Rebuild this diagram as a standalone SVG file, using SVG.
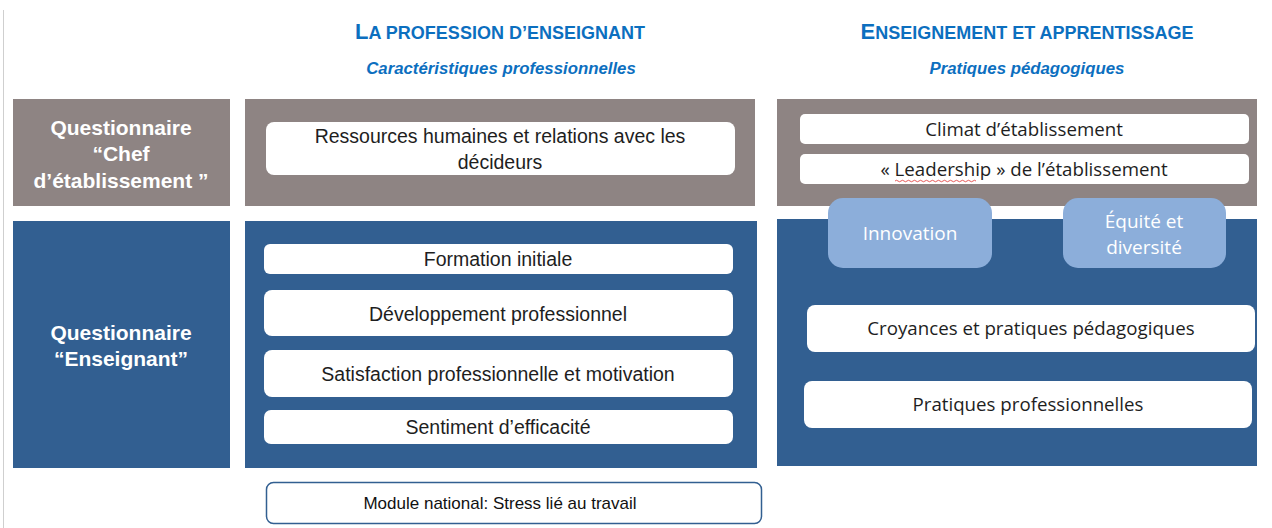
<svg xmlns="http://www.w3.org/2000/svg" width="1272" height="528" viewBox="0 0 1272 528">
<style>
.gray{fill:#8E8483}
.blue{fill:#325F91}
.wbox{fill:#FFFFFF}
.lbl{font-family:"Liberation Sans",Arial,sans-serif;font-weight:bold;font-size:21px;fill:#FFFFFF;text-anchor:middle}
.t{font-family:"Liberation Sans",Arial,sans-serif;font-size:19.5px;fill:#1E1E1E;text-anchor:middle}
.tr{font-family:"Open Sans","Liberation Sans",Arial,sans-serif;font-size:18.7px;fill:#1E1E1E;text-anchor:middle}
.head{font-family:"Liberation Sans",Arial,sans-serif;font-weight:bold;fill:#0C6FBF;text-anchor:middle}
.sub{font-family:"Liberation Sans",Arial,sans-serif;font-weight:bold;font-style:italic;font-size:16.8px;fill:#0C6FBF;text-anchor:middle}
.lt{fill:#8CAEDA}
.ltx{font-family:"Open Sans","Liberation Sans",Arial,sans-serif;font-size:19px;fill:#FFFFFF;text-anchor:middle}
</style>
<rect width="1272" height="528" fill="#FFFFFF"/>
<line x1="3.5" y1="10" x2="3.5" y2="528" stroke="#CFCFCF" stroke-width="1"/>

<g id="headings">
<text class="head" x="500" y="39"><tspan font-size="22">L</tspan><tspan font-size="18">A PROFESSION D’ENSEIGNANT</tspan></text>
<text class="sub" x="501" y="74">Caractéristiques professionnelles</text>
<text class="head" x="1027" y="39"><tspan font-size="22">E</tspan><tspan font-size="18">NSEIGNEMENT ET APPRENTISSAGE</tspan></text>
<text class="sub" x="1027" y="74">Pratiques pédagogiques</text>
</g>

<g id="q-chef">
<rect class="gray" x="13" y="99" width="217" height="107"/>
<text class="lbl" x="121" y="135">Questionnaire</text>
<text class="lbl" x="121" y="161">“Chef</text>
<text class="lbl" x="121" y="188">d’établissement ”</text>
</g>

<g id="q-enseignant">
<rect class="blue" x="13" y="221" width="217" height="247"/>
<text class="lbl" x="121" y="340">Questionnaire</text>
<text class="lbl" x="121" y="366">“Enseignant”</text>
</g>

<g id="profession-chef">
<rect class="gray" x="245" y="99" width="510" height="107"/>
<rect class="wbox" x="266" y="122" width="469" height="53" rx="8"/>
<text class="t" x="500" y="143">Ressources humaines et relations avec les</text>
<text class="t" x="500" y="169">décideurs</text>
</g>

<g id="profession-enseignant">
<rect class="blue" x="245" y="221" width="512" height="247"/>
<g id="formation">
<rect class="wbox" x="264" y="244" width="469" height="30" rx="6"/>
<text class="t" x="498" y="266">Formation initiale</text>
</g>
<g id="developpement">
<rect class="wbox" x="264" y="290" width="469" height="46" rx="8"/>
<text class="t" x="498" y="321">Développement professionnel</text>
</g>
<g id="satisfaction">
<rect class="wbox" x="264" y="350" width="469" height="47" rx="8"/>
<text class="t" x="498" y="381">Satisfaction professionnelle et motivation</text>
</g>
<g id="sentiment">
<rect class="wbox" x="264" y="410" width="469" height="34" rx="7"/>
<text class="t" x="498" y="434">Sentiment d’efficacité</text>
</g>
</g>

<g id="module">
<rect x="266.5" y="482.5" width="495" height="41" rx="7" fill="#FFFFFF" stroke="#325F91" stroke-width="1.5"/>
<text x="500" y="509" font-family="Liberation Sans, Arial, sans-serif" font-size="17" fill="#111" text-anchor="middle">Module national: Stress lié au travail</text>
</g>

<g id="enseignement-chef">
<rect class="gray" x="777" y="99" width="480" height="107"/>
<g id="climat">
<rect class="wbox" x="800" y="114" width="449" height="30" rx="5"/>
<text class="tr" x="1024" y="136">Climat d’établissement</text>
</g>
<g id="leadership">
<rect class="wbox" x="800" y="154" width="449" height="30" rx="5"/>
<text class="tr" x="1024" y="176">« Leadership » de l’établissement</text>
<path d="M895 181 q1.5 -1.5 3 0 t3 0 t3 0 t3 0 t3 0 t3 0 t3 0 t3 0 t3 0 t3 0 t3 0 t3 0 t3 0 t3 0 t3 0 t3 0 t3 0 t3 0 t3 0 t3 0 t3 0 t3 0 t3 0 t3 0 t3 0 t3 0 t3 0" fill="none" stroke="#E03030" stroke-width="0.8"/>
</g>
</g>

<g id="enseignement-enseignant">
<rect class="blue" x="777" y="219" width="480" height="247"/>
<g id="croyances">
<rect class="wbox" x="807" y="305" width="448" height="47" rx="8"/>
<text class="tr" x="1031" y="335">Croyances et pratiques pédagogiques</text>
</g>
<g id="pratiques">
<rect class="wbox" x="804" y="381" width="448" height="47" rx="8"/>
<text class="tr" x="1028" y="411">Pratiques professionnelles</text>
</g>
</g>

<g id="innovation">
<rect class="lt" x="828" y="198" width="164" height="70" rx="15"/>
<text class="ltx" x="910" y="240">Innovation</text>
</g>
<g id="equite">
<rect class="lt" x="1063" y="198" width="163" height="70" rx="15"/>
<text class="ltx" x="1144" y="228">Équité et</text>
<text class="ltx" x="1144" y="254">diversité</text>
</g>

<g id="connectors"></g>
</svg>
